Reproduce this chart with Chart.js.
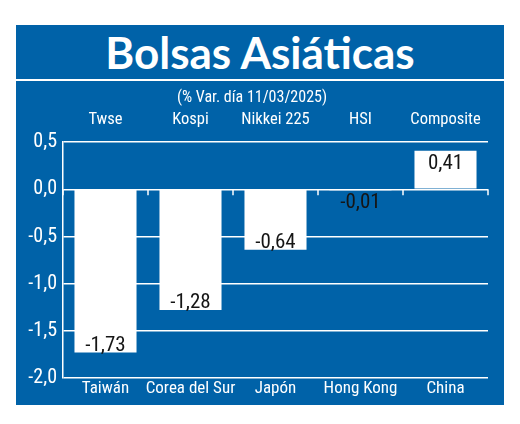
<!DOCTYPE html>
<html>
<head>
<meta charset="utf-8">
<script src="https://cdn.jsdelivr.net/npm/chart.js@4.4.1/dist/chart.umd.min.js"></script>
<style>
  body { margin: 0; background: #fff; width: 520px; height: 424px; position: relative; overflow: hidden; }
  #panel { position: absolute; left: 16px; top: 25px; width: 488px; height: 380px; background: #0062a8; }
  #title { height: 54px; border-bottom: 2px solid #fff; color: #fff; text-align: center;
           font: bold 44px Lato, sans-serif; line-height: 54px; }
  #wrap { position: relative; width: 488px; height: 324px; }
</style>
</head>
<body>
<div id="panel">
  <div id="title">Bolsas Asiáticas</div>
  <div id="wrap"><canvas id="chart" width="488" height="324"></canvas></div>
</div>
<script>
'use strict';

// data
const countries = ['Taiwán', 'Corea del Sur', 'Japón', 'Hong Kong', 'China'];
const indexNames = ['Twse', 'Kospi', 'Nikkei 225', 'HSI', 'Composite'];
const variation = [-1.73, -1.28, -0.64, -0.01, 0.41];
const subtitle = '(% Var. día 11/03/2025)';

const FONT = "'Liberation Sans Narrow', 'Roboto Condensed', 'Open Sans', sans-serif";
const fmt = (v, d) => v.toFixed(d).replace('.', ',');

Chart.defaults.font.family = FONT;

// little white ticks on the zero line between categories
const zeroTicks = {
    id: 'zeroTicks',
    afterDatasetsDraw(chart) {
        const x = chart.scales.x;
        const y0 = chart.scales.y.getPixelForValue(0);
        const ctx = chart.ctx;
        ctx.save();
        ctx.strokeStyle = '#fff';
        ctx.lineWidth = 1.5;
        for (let i = 0; i <= countries.length; i++) {
            const px = x.getPixelForValue(i - 0.5);
            ctx.beginPath();
            ctx.moveTo(px, y0);
            ctx.lineTo(px, y0 + 6);
            ctx.stroke();
        }
        ctx.restore();
    }
};

// value labels at the end of each bar
const valueLabels = {
    id: 'valueLabels',
    afterDatasetsDraw(chart) {
        const ctx = chart.ctx;
        const meta = chart.getDatasetMeta(0);
        ctx.save();
        ctx.fillStyle = '#151515';
        ctx.font = '21px ' + FONT;
        ctx.textAlign = 'center';
        ctx.textBaseline = 'alphabetic';
        meta.data.forEach((bar, i) => {
            const v = variation[i];
            const len = Math.abs(bar.y - bar.base);
            const ty = (v < 0 && len > 22) ? bar.y - 2 : bar.y + 18;
            ctx.fillText(fmt(v, 2), bar.x, ty);
        });
        ctx.restore();
    }
};

new Chart(document.getElementById('chart'), {
    type: 'bar',
    data: {
        labels: countries,
        datasets: [{
            data: variation,
            backgroundColor: '#fff',
            borderWidth: 0,
            barPercentage: 0.73,
            categoryPercentage: 1
        }]
    },
    options: {
        responsive: false,
        animation: false,
        layout: { padding: { right: 16, left: 0, top: 0, bottom: 0 } },
        plugins: {
            legend: { display: false },
            tooltip: { enabled: false },
            title: {
                display: true,
                text: subtitle,
                color: '#fff',
                font: { size: 16, weight: 'normal' },
                padding: { top: 7, bottom: 0 }
            }
        },
        scales: {
            x: {
                position: 'bottom',
                grid: { display: false, drawTicks: false },
                border: { display: false },
                ticks: { color: '#fff', font: { size: 17 }, padding: 1, maxRotation: 0, autoSkip: false },
                afterFit: (s) => { s.height = 27; }
            },
            xTop: {
                type: 'category',
                labels: indexNames,
                position: 'top',
                grid: { display: false, drawTicks: false },
                border: { display: false },
                ticks: { color: '#fff', font: { size: 16.5 }, padding: 12, maxRotation: 0, autoSkip: false },
                afterFit: (s) => { s.height = 35; }
            },
            y: {
                min: -2,
                max: 0.5,
                grid: { color: '#fff', lineWidth: 1.5, drawTicks: false },
                border: { display: true, color: '#fff', width: 1.5 },
                ticks: {
                    stepSize: 0.5,
                    color: '#fff',
                    font: { size: 20 },
                    padding: 6,
                    callback: (v) => fmt(v, 1)
                },
                afterFit: (s) => { s.width = 47; }
            }
        }
    },
    plugins: [zeroTicks, valueLabels]
});
</script>
</body>
</html>
